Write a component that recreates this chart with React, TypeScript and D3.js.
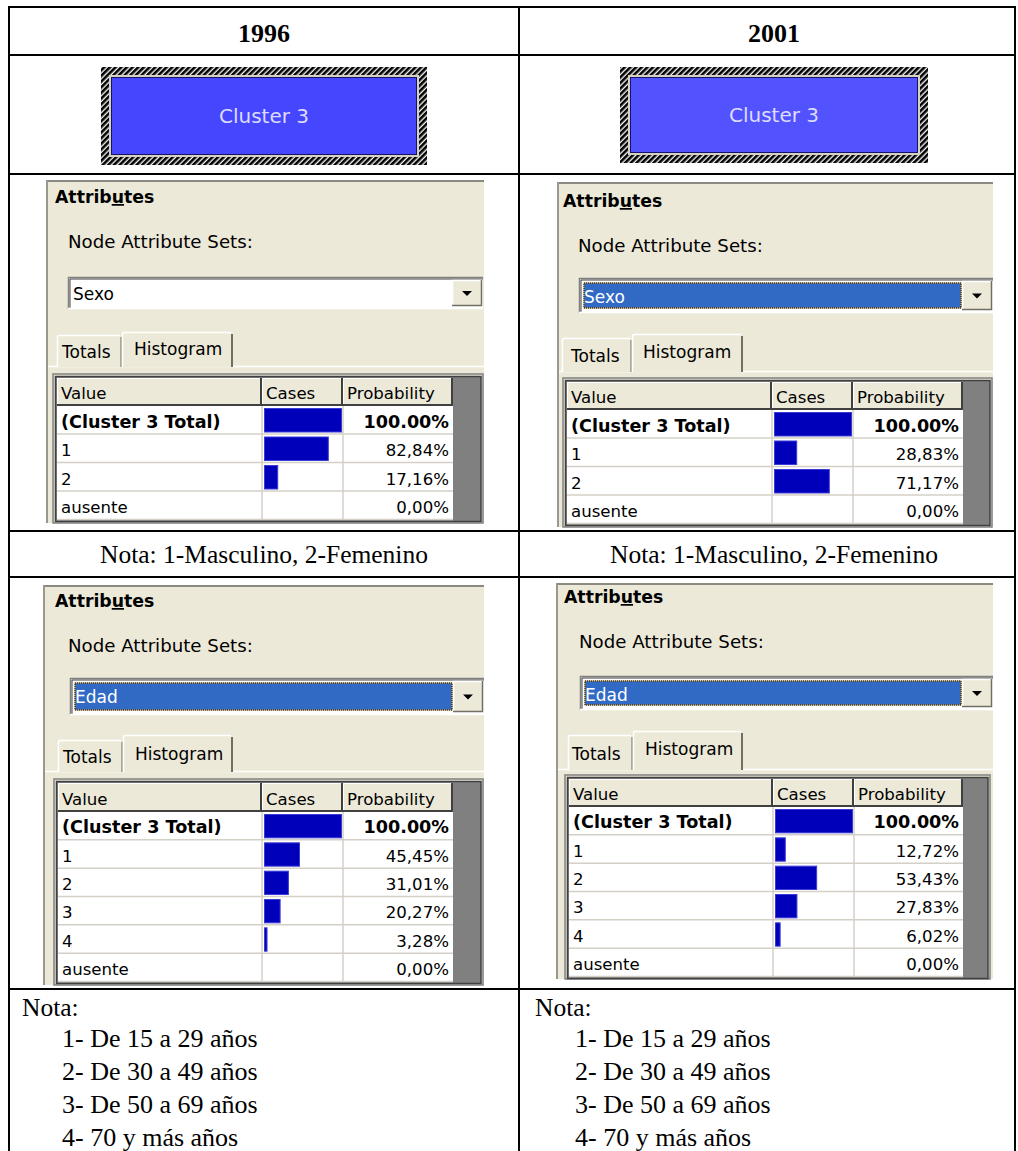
import React from "react";
import * as d3 from "d3";

// table content
const years = ["1996", "2001"];
const clusterLabel = "Cluster 3";
const columnLabels = ["Value", "Cases", "Probability"];
const attributeSets = ["Sexo", "Edad"];

const sexoValues = ["(Cluster 3 Total)", "1", "2", "ausente"];
const sexo1996 = [100, 82.84, 17.16, 0];
const sexo2001 = [100, 28.83, 71.17, 0];

const edadValues = ["(Cluster 3 Total)", "1", "2", "3", "4", "ausente"];
const edad1996 = [100, 45.45, 31.01, 20.27, 3.28, 0];
const edad2001 = [100, 12.72, 53.43, 27.83, 6.02, 0];

const sexoNote = "Nota: 1-Masculino, 2-Femenino";
const edadNoteTitle = "Nota:";
const edadNotes = [
  "1- De 15 a 29 años",
  "2- De 30 a 49 años",
  "3- De 50 a 69 años",
  "4- 70 y más años",
];

const W = 1018;
const H = 1151;
const BEIGE = "#ECE9D8";
const UI = "'DejaVu Sans', Verdana, sans-serif";
const SERIF = "'Liberation Serif', 'Times New Roman', serif";

// screenshot geometry (each capture was pasted at a slightly different place)
const panels = {
  sexo1996: {
    x0: 46, y0: 180, x1: 484, y1: 523,
    attrX: 55, attrY: 203, nodeX: 68, nodeY: 248,
    dd: { x: 68, y: 277, w: 415, h: 32 }, ddTextY: 300,
    totals: { x: 57, y: 335, w: 65, h: 32, tx: 62, ty: 358 },
    hist: { x: 122, y: 332, w: 111, h: 35, tx: 134, ty: 355 },
    tableTop: 378, headerBottom: 406, tableBottom: 520,
    cols: [57, 262, 343, 453], grayRight: 481,
  },
  sexo2001: {
    x0: 557, y0: 182, x1: 993, y1: 527,
    attrX: 563, attrY: 207, nodeX: 578, nodeY: 252,
    dd: { x: 579, y: 278, w: 414, h: 35 }, ddTextY: 303,
    totals: { x: 562, y: 338, w: 70, h: 34, tx: 571, ty: 362 },
    hist: { x: 632, y: 334, w: 111, h: 38, tx: 643, ty: 358 },
    tableTop: 382, headerBottom: 410, tableBottom: 524,
    cols: [567, 772, 853, 963], grayRight: 990,
  },
  edad1996: {
    x0: 43, y0: 585, x1: 484, y1: 985,
    attrX: 55, attrY: 607, nodeX: 68, nodeY: 652,
    dd: { x: 70, y: 678, w: 414, h: 37 }, ddTextY: 703,
    totals: { x: 58, y: 740, w: 65, h: 32, tx: 63, ty: 763 },
    hist: { x: 123, y: 735, w: 110, h: 37, tx: 135, ty: 760 },
    tableTop: 783, headerBottom: 812, tableBottom: 982,
    cols: [58, 262, 343, 453], grayRight: 481,
  },
  edad2001: {
    x0: 556, y0: 583, x1: 993, y1: 979,
    attrX: 564, attrY: 603, nodeX: 579, nodeY: 648,
    dd: { x: 580, y: 676, w: 413, h: 34 }, ddTextY: 701,
    totals: { x: 568, y: 735, w: 65, h: 35, tx: 572, ty: 760 },
    hist: { x: 633, y: 731, w: 110, h: 39, tx: 645, ty: 755 },
    tableTop: 779, headerBottom: 807, tableBottom: 977,
    cols: [569, 773, 854, 963], grayRight: 988,
  },
};

const fmt = d3.format(".2f");
const pctLabel = (v: number, i: number) =>
  i === 0 ? fmt(v) + "%" : fmt(v).replace(".", ",") + "%";

function ClusterBox({ x, y, w, h, fill }: any) {
  const cx = x + w / 2;
  return (
    <g>
      <rect x={x} y={y} width={w} height={h} fill="url(#hatch)" />
      <rect x={x + 8} y={y + 8} width={w - 16} height={h - 16} fill="#d6d2bf" />
      <rect x={x + 10} y={y + 10} width={w - 20} height={h - 20} fill="#14146e" />
      <rect x={x + 11} y={y + 11} width={w - 22} height={h - 22} fill={fill} />
      <text x={cx} y={y + h / 2 + 7} textAnchor="middle" fontFamily={UI} fontSize={20} fill="#dcdcff">
        {clusterLabel}
      </text>
    </g>
  );
}

function Tab({ t, label, selected }: any) {
  const { x, y, w, h } = t;
  const b = y + h;
  return (
    <g>
      <path d={`M${x},${b} V${y + 2} Q${x},${y} ${x + 2},${y} H${x + w - 2} Q${x + w},${y} ${x + w},${y + 2} V${b}`}
        fill={BEIGE} stroke="none" />
      <path d={`M${x + 0.5},${b} V${y + 2} Q${x + 0.5},${y + 0.5} ${x + 2},${y + 0.5} H${x + w - 2}`}
        fill="none" stroke="#fff" strokeWidth={1.5} />
      <path d={`M${x + w - 1},${y + 2} V${b}`} fill="none" stroke={selected ? "#716f64" : "#aca899"} strokeWidth={2} />
      <text x={t.tx} y={t.ty} fontFamily={UI} fontSize={17} fill="#000">{label}</text>
    </g>
  );
}

function AttrPanel({ g, setName, selected, labels, values }: any) {
  const [c0, c1, c2, c3] = g.cols;
  const rows = d3.scaleBand<string>().domain(labels).range([g.headerBottom, g.tableBottom]);
  const rh = rows.bandwidth();
  const x = d3.scaleLinear().domain([0, 100]).range([0, c2 - c1 - 4]);
  const dd = g.dd;
  const arrowX = dd.x + dd.w - 31;
  const selX = dd.x + 5;
  const selY = dd.y + 5;
  const selW = arrowX - selX - 1;
  const selH = dd.h - 10;
  const triX = arrowX + 15;
  const triY = dd.y + dd.h / 2;
  const colEdges = [c0, c1, c2, c3];
  return (
    <g>
      <rect x={g.x0} y={g.y0} width={g.x1 - g.x0} height={g.y1 - g.y0} fill={BEIGE} />
      <line x1={g.x0} x2={g.x1} y1={g.y0 + 1} y2={g.y0 + 1} stroke="#8c8a80" strokeWidth={2} />
      <line x1={g.x0 + 1} x2={g.x0 + 1} y1={g.y0} y2={g.y1} stroke="#9a988c" strokeWidth={2} />

      <text x={g.attrX} y={g.attrY} fontFamily={UI} fontWeight="bold" fontSize={17.3} fill="#000">
        Attrib<tspan style={{ textDecoration: "underline" }}>u</tspan>tes
      </text>
      <text x={g.nodeX} y={g.nodeY} fontFamily={UI} fontSize={18.2} fill="#000">Node Attribute Sets:</text>

      {/* combo box */}
      <rect x={dd.x} y={dd.y} width={dd.w} height={dd.h} fill="#fff" />
      <path d={`M${dd.x + 0.5},${dd.y + dd.h} V${dd.y + 0.5} H${dd.x + dd.w}`} fill="none" stroke="#808080" strokeWidth={1.5} />
      <path d={`M${dd.x + 2},${dd.y + dd.h - 1} V${dd.y + 2} H${dd.x + dd.w}`} fill="none" stroke="#404040" strokeWidth={1} />
      <path d={`M${dd.x},${dd.y + dd.h - 0.5} H${dd.x + dd.w}`} fill="none" stroke="#fff" strokeWidth={1.5} />
      <rect x={arrowX} y={dd.y + 3} width={dd.w - (arrowX - dd.x) - 1} height={dd.h - 6} fill={BEIGE} />
      <path d={`M${arrowX + 0.5},${dd.y + dd.h - 3} V${dd.y + 3.5} H${dd.x + dd.w - 1}`} fill="none" stroke="#fff" strokeWidth={1.5} />
      <path d={`M${arrowX},${dd.y + dd.h - 3.5} H${dd.x + dd.w - 1.5} V${dd.y + 3}`} fill="none" stroke="#716f64" strokeWidth={1.5} />
      <path d={`M${triX - 5},${triY - 2} H${triX + 5} L${triX},${triY + 3} Z`} fill="#000" />
      {selected && (
        <g>
          <rect x={selX} y={selY} width={selW} height={selH} fill="#316AC5" stroke="#c8a050" strokeWidth={1} />
          <rect x={selX} y={selY} width={selW} height={selH} fill="none" stroke="#000" strokeWidth={1} strokeDasharray="1 1" />
        </g>
      )}
      <text x={dd.x + 5} y={g.ddTextY} fontFamily={UI} fontSize={17} fill={selected ? "#fff" : "#000"}>
        {setName}
      </text>

      {/* tabs */}
      <line x1={g.x0 + 2} x2={g.x1} y1={g.hist.y + g.hist.h - 0.5} y2={g.hist.y + g.hist.h - 0.5} stroke="#fff" strokeWidth={1.5} />
      <Tab t={g.totals} label="Totals" selected={false} />
      <Tab t={g.hist} label="Histogram" selected={true} />
      <line x1={g.hist.x + 1} x2={g.hist.x + g.hist.w - 2} y1={g.hist.y + g.hist.h - 0.5} y2={g.hist.y + g.hist.h - 0.5} stroke={BEIGE} strokeWidth={1.5} />

      {/* grid frame */}
      <rect x={c0 - 4} y={g.tableTop - 4} width={g.grayRight - c0 + 6} height={g.y1 - g.tableTop + 4} fill="none" stroke="#808080" strokeWidth={1.5} />
      <rect x={c0 - 1.5} y={g.tableTop - 1.5} width={g.grayRight - c0 + 1.5} height={g.tableBottom - g.tableTop + 3} fill="#808080" stroke="#404040" strokeWidth={1.5} />
      <rect x={c0} y={g.headerBottom} width={c3 - c0} height={g.tableBottom - g.headerBottom} fill="#fff" />

      {/* header */}
      {columnLabels.map((lab, i) => (
        <g key={lab}>
          <rect x={colEdges[i]} y={g.tableTop} width={colEdges[i + 1] - colEdges[i]} height={g.headerBottom - g.tableTop} fill={BEIGE} />
          <path d={`M${colEdges[i] + 0.5},${g.headerBottom} V${g.tableTop + 0.5} H${colEdges[i + 1]}`} fill="none" stroke="#fff" strokeWidth={1} />
          <path d={`M${colEdges[i]},${g.headerBottom - 1} H${colEdges[i + 1] - 1} V${g.tableTop}`} fill="none" stroke="#404040" strokeWidth={2} />
          <text x={colEdges[i] + 4} y={g.headerBottom - 7} fontFamily={UI} fontSize={16.6} fill="#000">{lab}</text>
        </g>
      ))}

      {/* rows */}
      {labels.map((lab: string, i: number) => {
        const y0 = rows(lab) as number;
        const bold = i === 0;
        return (
          <g key={lab}>
            <line x1={c0} x2={c3} y1={y0 + rh - 0.5} y2={y0 + rh - 0.5} stroke="#d4d0c8" strokeWidth={1.5} />
            {values[i] > 0 && (
              <rect x={c1 + 2.5} y={y0 + 2.5} width={Math.max(1.5, x(values[i]))} height={rh - 5}
                fill="#0000BB" stroke="#3b3bd8" strokeWidth={1} />
            )}
            <text x={c0 + 4} y={y0 + rh - 7} fontFamily={UI} fontSize={bold ? 17.6 : 16.6}
              fontWeight={bold ? "bold" : "normal"} fill="#000">{lab}</text>
            <text x={c3 - 4} y={y0 + rh - 7} textAnchor="end" fontFamily={UI} fontSize={bold ? 17.6 : 16.6}
              fontWeight={bold ? "bold" : "normal"} fill="#000">{pctLabel(values[i], i)}</text>
          </g>
        );
      })}
      <line x1={c1} x2={c1} y1={g.headerBottom} y2={g.tableBottom} stroke="#d4d0c8" strokeWidth={1.5} />
      <line x1={c2} x2={c2} y1={g.headerBottom} y2={g.tableBottom} stroke="#d4d0c8" strokeWidth={1.5} />
    </g>
  );
}

export default function App() {
  const colCenters = [264, 774];
  const vLines = [9, 519, 1015];
  const hLines = [7, 55, 174, 531, 577, 989];
  return (
    <svg width={W} height={H} style={{ position: "absolute", left: 0, top: 0, background: "#fff" }}>
      <defs>
        <pattern id="hatch" width="4" height="4" patternUnits="userSpaceOnUse" patternTransform="rotate(45)">
          <rect width="4" height="4" fill="#f4f4f4" />
          <rect width="2.6" height="4" fill="#000" />
        </pattern>
      </defs>

      {years.map((yr, i) => (
        <text key={yr} x={colCenters[i]} y={42} textAnchor="middle" fontFamily={SERIF} fontWeight="bold" fontSize={26}>
          {yr}
        </text>
      ))}

      <ClusterBox x={101} y={67} w={326} h={98} fill="#4646FF" />
      <ClusterBox x={620} y={67} w={308} h={96} fill="#5252FF" />

      <AttrPanel g={panels.sexo1996} setName={attributeSets[0]} selected={false} labels={sexoValues} values={sexo1996} />
      <AttrPanel g={panels.sexo2001} setName={attributeSets[0]} selected={true} labels={sexoValues} values={sexo2001} />
      <AttrPanel g={panels.edad1996} setName={attributeSets[1]} selected={true} labels={edadValues} values={edad1996} />
      <AttrPanel g={panels.edad2001} setName={attributeSets[1]} selected={true} labels={edadValues} values={edad2001} />

      {colCenters.map((cx) => (
        <text key={cx} x={cx} y={563} textAnchor="middle" fontFamily={SERIF} fontSize={25.5}>{sexoNote}</text>
      ))}

      {[22, 535].map((nx) => (
        <g key={nx}>
          <text x={nx} y={1016} fontFamily={SERIF} fontSize={25.5}>{edadNoteTitle}</text>
          {edadNotes.map((n, j) => (
            <text key={n} x={nx + 40} y={1047 + j * 33} fontFamily={SERIF} fontSize={26}>{n}</text>
          ))}
        </g>
      ))}

      {hLines.map((y) => (
        <line key={"h" + y} x1={8} x2={1016} y1={y} y2={y} stroke="#000" strokeWidth={2} />
      ))}
      {vLines.map((x) => (
        <line key={"v" + x} x1={x} x2={x} y1={6} y2={H} stroke="#000" strokeWidth={2} />
      ))}
    </svg>
  );
}
